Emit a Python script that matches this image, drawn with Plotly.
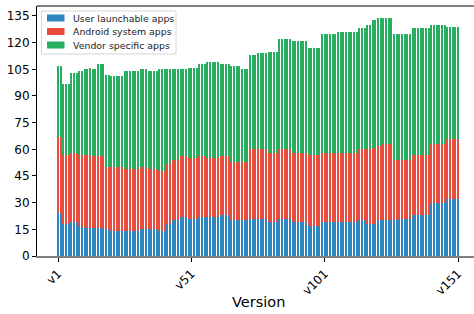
import plotly.graph_objects as go

versions = [f"v{i}" for i in range(1, 152)]
tick_labels = ["v1", "v51", "v101", "v151"]

user_apps = [24, 24, 18, 18, 18, 19, 19, 19, 17, 17, 16, 16, 16, 16, 16, 16, 16, 16, 15, 15,
             14, 14, 14, 14, 14, 14, 14, 14, 14, 14, 14, 15, 15, 15, 15, 15, 15, 15, 14, 14,
             14, 18, 18, 20, 20, 20, 22, 22, 22, 21, 21, 21, 21, 22, 22, 22, 22, 22, 22, 22,
             22, 23, 23, 23, 23, 20, 20, 20, 20, 20, 20, 20, 21, 21, 21, 21, 21, 21, 21, 19,
             19, 19, 19, 21, 21, 21, 21, 21, 19, 19, 19, 19, 19, 19, 17, 17, 17, 17, 17, 19,
             19, 19, 19, 19, 19, 19, 19, 19, 19, 19, 19, 19, 19, 20, 20, 20, 18, 18, 18, 18,
             20, 20, 20, 20, 20, 20, 20, 20, 21, 21, 21, 21, 21, 23, 23, 23, 23, 23, 23, 23,
             29, 30, 30, 30, 30, 30, 32, 32, 32, 32, 32]

android_apps = [43, 43, 39, 39, 39, 39, 39, 39, 40, 40, 41, 41, 41, 40, 40, 40, 40, 40, 35, 35,
                36, 36, 36, 36, 36, 35, 35, 35, 35, 35, 35, 35, 35, 35, 34, 34, 34, 34, 34, 34,
                34, 34, 34, 34, 34, 34, 34, 34, 34, 34, 34, 34, 34, 34, 34, 34, 33, 33, 33, 33,
                33, 33, 33, 33, 33, 33, 33, 33, 33, 33, 33, 33, 39, 39, 39, 39, 39, 39, 39, 39,
                39, 39, 39, 39, 39, 39, 39, 39, 39, 39, 39, 39, 39, 39, 40, 40, 40, 40, 40, 39,
                39, 39, 39, 39, 39, 39, 39, 39, 39, 39, 39, 39, 39, 40, 40, 40, 42, 42, 43, 43,
                42, 42, 43, 43, 43, 43, 34, 34, 33, 33, 33, 33, 33, 34, 34, 34, 34, 34, 34, 34,
                34, 33, 33, 33, 33, 33, 34, 34, 34, 34, 34]

vendor_apps = [40, 40, 40, 40, 40, 45, 45, 45, 47, 47, 48, 48, 49, 49, 49, 52, 52, 52, 52, 52,
               51, 51, 51, 51, 51, 55, 55, 55, 55, 55, 55, 55, 55, 55, 55, 55, 55, 55, 57, 57,
               57, 53, 53, 51, 51, 51, 49, 49, 49, 51, 51, 51, 51, 52, 52, 52, 54, 54, 54, 54,
               54, 52, 52, 52, 52, 54, 54, 54, 54, 52, 52, 52, 53, 53, 53, 54, 54, 54, 54, 57,
               57, 57, 57, 62, 62, 62, 62, 62, 63, 63, 63, 63, 63, 63, 60, 60, 60, 60, 60, 67,
               67, 67, 67, 67, 67, 68, 68, 68, 68, 68, 68, 68, 68, 68, 68, 68, 70, 70, 72, 72,
               72, 72, 71, 71, 71, 71, 71, 71, 71, 71, 71, 71, 71, 71, 71, 71, 71, 71, 71, 71,
               67, 67, 67, 67, 67, 67, 63, 63, 63, 63, 63]

series = [
    ("User launchable apps", user_apps, "#2E86C1"),
    ("Android system apps", android_apps, "#E74C3C"),
    ("Vendor specific apps", vendor_apps, "#27AE60"),
]

FONT = "DejaVu Sans"
W, H = 474, 314
ML, MR, MT, MB = 37, 0, 6, 58
PW, PH = W - ML - MR, H - MT - MB


def px(x):
    return (x - ML) / PW


def py(y):
    return (H - MB - y) / PH


fig = go.Figure()
for name, vals, color in series:
    fig.add_trace(go.Bar(x=versions, y=vals, name=name, showlegend=False,
                         marker=dict(color=color, line=dict(width=0))))

# legend drawn manually (matplotlib-like compact layout)
shapes = [
    dict(type="line", xref="paper", yref="paper", x0=0, x1=1, y0=1, y1=1,
         line=dict(color="black", width=1)),
    dict(type="rect", xref="paper", yref="paper", x0=px(41.5), x1=px(176), y0=py(54), y1=py(11),
         line=dict(color="#d5d5d5", width=1), fillcolor="white"),
]
annotations = []
row_y = [18, 31.5, 45]
for (name, _, color), ry in zip(series, row_y):
    shapes.append(dict(type="rect", xref="paper", yref="paper", x0=px(47), x1=px(64.5),
                       y0=py(ry + 3.5), y1=py(ry - 3.5), line=dict(width=0), fillcolor=color))
    annotations.append(dict(text=name, xref="paper", yref="paper", x=px(71), y=py(ry),
                            xanchor="left", yanchor="middle", showarrow=False,
                            font=dict(size=9.4, family=FONT, color="#222")))
annotations.append(dict(text="Version", xref="paper", yref="paper", x=px(258), y=py(302),
                        xanchor="center", yanchor="middle", showarrow=False,
                        font=dict(size=14.5, family=FONT, color="black")))

fig.update_layout(
    width=W, height=H,
    margin=dict(l=ML, r=MR, t=MT, b=MB),
    barmode="stack", bargap=0.2,
    plot_bgcolor="white", paper_bgcolor="white",
    font=dict(family=FONT, color="black"),
    showlegend=False,
    shapes=shapes, annotations=annotations,
)
fig.update_xaxes(
    range=[-7.875, 156.0], tickmode="array", tickvals=tick_labels, ticktext=tick_labels,
    tickangle=-45, ticks="outside", ticklen=4, tickcolor="black",
    showline=True, linecolor="#808080", linewidth=2, showgrid=False, automargin=False,
    tickfont=dict(size=12, family=FONT),
)
fig.update_yaxes(
    range=[0, 140.6], tickmode="array", tickvals=list(range(0, 136, 15)),
    ticks="outside", ticklen=4, tickcolor="black", automargin=False,
    showline=True, linecolor="black", linewidth=1, showgrid=False, zeroline=False,
    tickfont=dict(size=12, family=FONT),
)

fig.write_html("out.html", config={"displayModeBar": False},
               post_script="document.body.style.margin='0';")
